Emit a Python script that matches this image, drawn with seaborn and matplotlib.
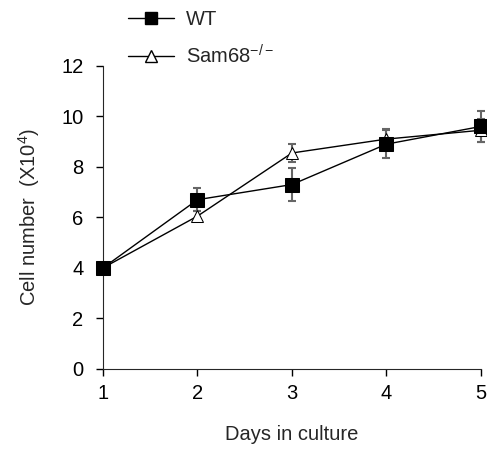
import matplotlib
matplotlib.use("Agg")
import matplotlib.pyplot as plt
from matplotlib.lines import Line2D
import numpy as np
import pandas as pd
import seaborn as sns

days = [1, 2, 3, 4, 5]
wt_mean = [4.0, 6.7, 7.3, 8.9, 9.6]
wt_err = [0.1, 0.45, 0.65, 0.55, 0.6]
ko_mean = [4.0, 6.05, 8.55, 9.1, 9.45]
ko_err = [0.1, 0.2, 0.35, 0.4, 0.45]
labels = ["WT", "Sam68$^{-/-}$"]

sns.set_style("ticks")
plt.rcParams["font.family"] = ["Liberation Sans", "DejaVu Sans"]
plt.rcParams["mathtext.fontset"] = "custom"
plt.rcParams["mathtext.rm"] = "Liberation Sans"
plt.rcParams["mathtext.it"] = "Liberation Sans"

FS = 14.5

df = pd.DataFrame({
    "day": days * 2,
    "cells": wt_mean + ko_mean,
    "group": [labels[0]] * 5 + [labels[1]] * 5,
})

fig = plt.figure(figsize=(4.87, 4.51), dpi=100)
ax = fig.add_axes([0.2115, 0.182, 0.776, 0.672])

for m, e in [(wt_mean, wt_err), (ko_mean, ko_err)]:
    ax.errorbar(days, m, yerr=e, fmt="none", ecolor="#666666", elinewidth=1.5,
                capsize=3, capthick=1.5, zorder=2, clip_on=False)

sns.lineplot(data=df, x="day", y="cells", hue="group", style="group",
             palette=["black", "black"], markers=["s", "^"], dashes=False,
             linewidth=1, markersize=10, ax=ax, clip_on=False, legend=False)
lines = ax.get_lines()[-2:]
lines[0].set_markerfacecolor("black")
lines[0].set_markeredgecolor("black")
lines[0].set_zorder(4)
lines[1].set_markerfacecolor("white")
lines[1].set_markeredgecolor("black")
lines[1].set_markersize(9)
lines[1].set_zorder(3)
for l in lines:
    l.set_clip_on(False)

ax.set_xlim(1, 5)
ax.set_ylim(0, 12)
ax.set_xticks(days)
ax.set_yticks(np.arange(0, 13, 2))
ax.tick_params(labelsize=FS, length=5, width=1, colors="black")
ax.tick_params(axis="y", pad=9)
ax.tick_params(axis="x", pad=6)
ax.set_xlabel("Days in culture", fontsize=FS, labelpad=16)
ax.set_ylabel("Cell number  (X10$^4$)", fontsize=FS, labelpad=14)
sns.despine(ax=ax)

handles = [Line2D([], [], color="black", lw=1, marker="s", ms=9, mfc="black", mec="black"),
           Line2D([], [], color="black", lw=1, marker="^", ms=8, mfc="white", mec="black")]
fig.legend(handles, labels, loc="upper left", bbox_to_anchor=(0.225, 1.018), frameon=False,
           fontsize=FS, handlelength=2.3, labelspacing=0.75, handletextpad=0.6)

fig.savefig("out.png", dpi=100)
